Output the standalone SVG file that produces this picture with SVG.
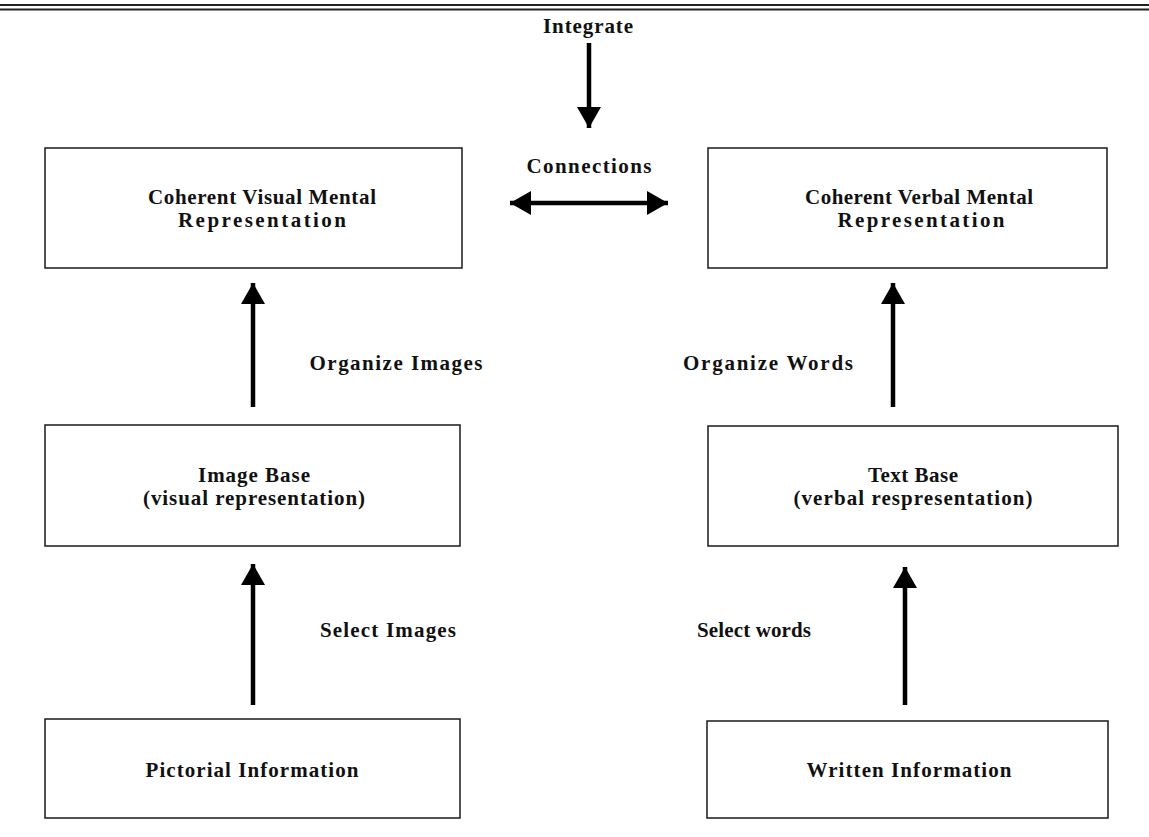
<svg xmlns="http://www.w3.org/2000/svg" width="1149" height="837" viewBox="0 0 1149 837">
<style>
  .box { fill: #ffffff; stroke: #1a1a1a; stroke-width: 1.5; }
  .lbl { font-family: "Liberation Serif", "Times New Roman", serif; font-size: 21px; font-weight: bold; fill: #111; text-anchor: middle; }
  .conn { stroke: #000; stroke-width: 4.5; fill: none; }
  .rule { stroke: #222; stroke-width: 2; }
</style>
<defs>
  <marker id="ah" viewBox="0 0 21 24" refX="21" refY="12" markerWidth="21" markerHeight="24" markerUnits="userSpaceOnUse" orient="auto-start-reverse">
    <path d="M0,0 L21,12 L0,24 Z" fill="#000"/>
  </marker>
</defs>
<rect x="0" y="0" width="1149" height="837" fill="#ffffff"/>
<g id="header-rule">
  <line class="rule" x1="0" y1="5" x2="1149" y2="5"/>
  <line class="rule" x1="0" y1="9.5" x2="1149" y2="9.5"/>
</g>

<g id="connectors">
  <line class="conn" x1="589" y1="43" x2="589" y2="128" marker-end="url(#ah)"/>
  <line class="conn" x1="510" y1="203" x2="668" y2="203" marker-start="url(#ah)" marker-end="url(#ah)"/>
  <line class="conn" x1="253" y1="407" x2="253" y2="283" marker-end="url(#ah)"/>
  <line class="conn" x1="893" y1="407" x2="893" y2="283" marker-end="url(#ah)"/>
  <line class="conn" x1="253" y1="705" x2="253" y2="564" marker-end="url(#ah)"/>
  <line class="conn" x1="905" y1="705" x2="905" y2="567" marker-end="url(#ah)"/>
  <text class="lbl" x="588" y="33" textLength="90" lengthAdjust="spacing">Integrate</text>
  <text class="lbl" x="589" y="173" textLength="125" lengthAdjust="spacing">Connections</text>
  <text class="lbl" x="396" y="370" textLength="173" lengthAdjust="spacing">Organize Images</text>
  <text class="lbl" x="768" y="370" textLength="170" lengthAdjust="spacing">Organize Words</text>
  <text class="lbl" x="388" y="637" textLength="136" lengthAdjust="spacing">Select Images</text>
  <text class="lbl" x="754" y="637" textLength="114" lengthAdjust="spacing">Select words</text>
</g>

<g id="coherent-visual">
  <rect class="box" x="45" y="148" width="417" height="120"/>
  <text class="lbl" x="262" y="204" textLength="228" lengthAdjust="spacing">Coherent Visual Mental</text>
  <text class="lbl" x="262" y="227" textLength="168" lengthAdjust="spacing">Representation</text>
</g>
<g id="coherent-verbal">
  <rect class="box" x="708" y="148" width="399" height="120"/>
  <text class="lbl" x="919" y="204" textLength="228" lengthAdjust="spacing">Coherent Verbal Mental</text>
  <text class="lbl" x="921" y="227" textLength="167" lengthAdjust="spacing">Representation</text>
</g>
<g id="image-base">
  <rect class="box" x="45" y="425" width="415" height="121"/>
  <text class="lbl" x="254" y="482" textLength="112" lengthAdjust="spacing">Image Base</text>
  <text class="lbl" x="254" y="505" textLength="222" lengthAdjust="spacing">(visual representation)</text>
</g>
<g id="text-base">
  <rect class="box" x="708" y="426" width="410" height="120"/>
  <text class="lbl" x="913" y="482" textLength="90" lengthAdjust="spacing">Text Base</text>
  <text class="lbl" x="913" y="505" textLength="239" lengthAdjust="spacing">(verbal respresentation)</text>
</g>
<g id="pictorial-information">
  <rect class="box" x="45" y="719" width="415" height="99"/>
  <text class="lbl" x="252" y="777" textLength="213" lengthAdjust="spacing">Pictorial Information</text>
</g>
<g id="written-information">
  <rect class="box" x="707" y="721" width="401" height="97"/>
  <text class="lbl" x="909" y="777" textLength="205" lengthAdjust="spacing">Written Information</text>
</g>
</svg>
